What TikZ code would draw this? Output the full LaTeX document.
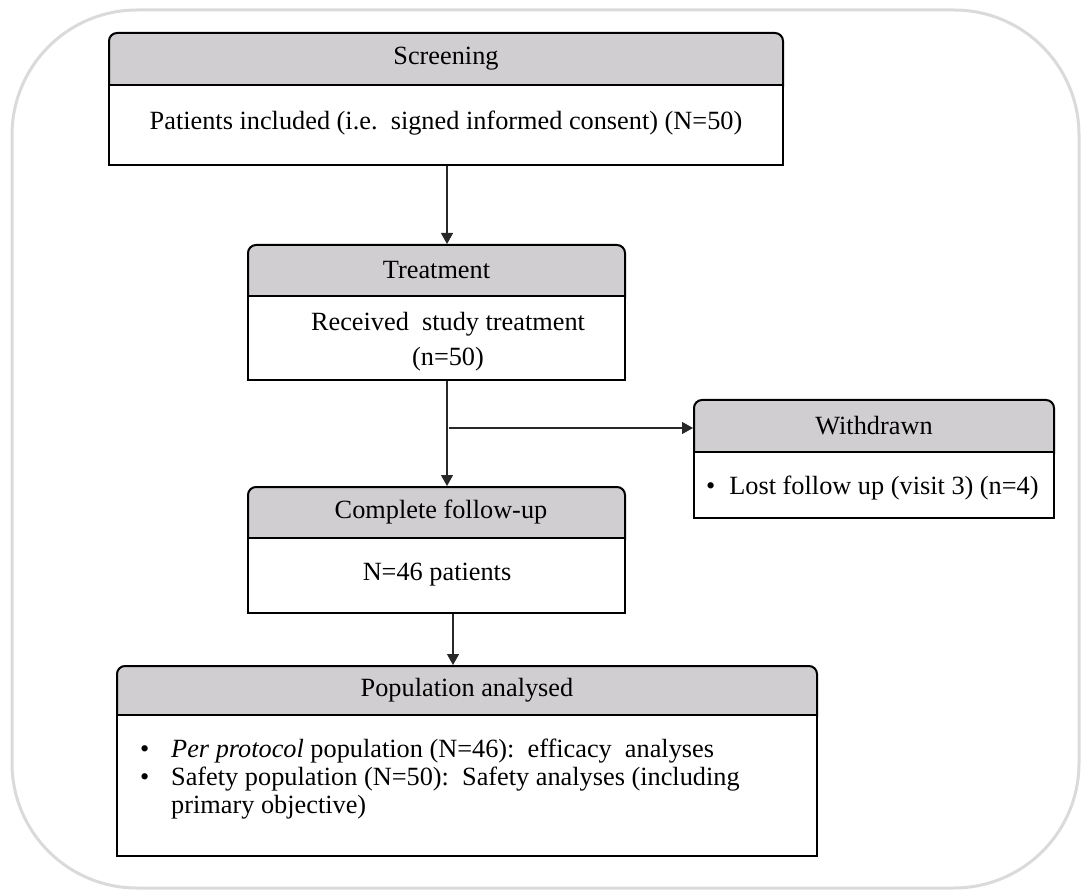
\documentclass[tikz,border=0pt]{standalone}
\usepackage{fontspec}
\setmainfont{Liberation Serif}
\usetikzlibrary{arrows.meta}
\definecolor{hdrgray}{RGB}{208,206,208}
\definecolor{framegray}{RGB}{218,218,218}
\definecolor{linegray}{RGB}{40,40,40}
\tikzset{
  hdrbox/.style={draw=black, line width=2pt, fill=hdrgray, rounded corners=8pt, inner sep=0pt},
  bodybox/.style={draw=black, line width=2pt, fill=white, inner sep=0pt},
  txt/.style={inner sep=0pt, font=\fontsize{26.3}{31}\selectfont},
  conn/.style={draw=linegray, line width=1.3pt},
  arr/.style={conn, -{Triangle[length=11pt,width=12pt]}}
}
\begin{document}
\begin{tikzpicture}[x=1pt,y=-1pt]
\useasboundingbox (0,0) rectangle (1082,890);
\draw[framegray, line width=3pt, rounded corners=125pt] (12,10) rectangle (1079,888);

% Screening
\node[hdrbox, minimum width=674pt, minimum height=62pt] (scrH) at (446,64) {};
\node[bodybox, minimum width=674pt, minimum height=80pt] (scrB) at (446,125) {};
\node[txt] (scrHt) at (446,59) {Screening};
\node[txt] (scrBt) at (446,123) {Patients included (i.e.\ \ signed informed consent) (N=50)};

% Treatment
\node[hdrbox, minimum width=377pt, minimum height=61pt] (trH) at (436.5,275.5) {};
\node[bodybox, minimum width=377pt, minimum height=84pt] (trB) at (436.5,338) {};
\node[txt] (trHt) at (436.5,270.5) {Treatment};
\node[txt, align=center, font=\fontsize{26.3}{35}\selectfont] (trBt) at (448,342) {Received\ \ study treatment\\(n=50)};

% Complete follow-up
\node[hdrbox, minimum width=377pt, minimum height=61pt] (cfH) at (436.5,517.5) {};
\node[bodybox, minimum width=377pt, minimum height=75pt] (cfB) at (436.5,575.5) {};
\node[txt] (cfHt) at (441,512.5) {Complete follow-up};
\node[txt] (cfBt) at (437,575) {N=46 patients};

% Withdrawn
\node[hdrbox, minimum width=360pt, minimum height=62pt] (wdH) at (874,431) {};
\node[bodybox, minimum width=360pt, minimum height=66pt] (wdB) at (874,485) {};
\node[txt] (wdHt) at (874,426) {Withdrawn};
\node[txt, anchor=west] (wdBt) at (706,488) {•\hspace{14pt}Lost follow up (visit 3) (n=4)};

% Population analysed
\node[hdrbox, minimum width=700pt, minimum height=59pt] (paH) at (467,695.5) {};
\node[bodybox, minimum width=700pt, minimum height=141pt] (paB) at (467,785.5) {};
\node[txt] (paHt) at (467,690.5) {Population analysed};
\node[txt, anchor=north west, align=left, font=\fontsize{26.3}{30}\selectfont] (paBt) at (140,736)
  {\begin{tabular}{@{}p{31pt}@{}l@{}}
   • & \textit{Per protocol} population (N=46):\ \ efficacy\ \ analyses\\[-2pt]
   • & Safety population (N=50):\ \ Safety analyses (including\\[-2pt]
     & primary objective)
   \end{tabular}};

% connectors
\coordinate (split) at (447,428);
\draw[arr] (scrB.south -| split) -- (trH.north -| split);
\draw[arr] (trB.south -| split) -- (cfH.north -| split);
\draw[arr] ([xshift=2pt]split) -- (split -| wdH.west);
\draw[arr] ([xshift=16.5pt]cfB.south) -- ([xshift=16.5pt]cfB.south |- paH.north);
\end{tikzpicture}
\end{document}
